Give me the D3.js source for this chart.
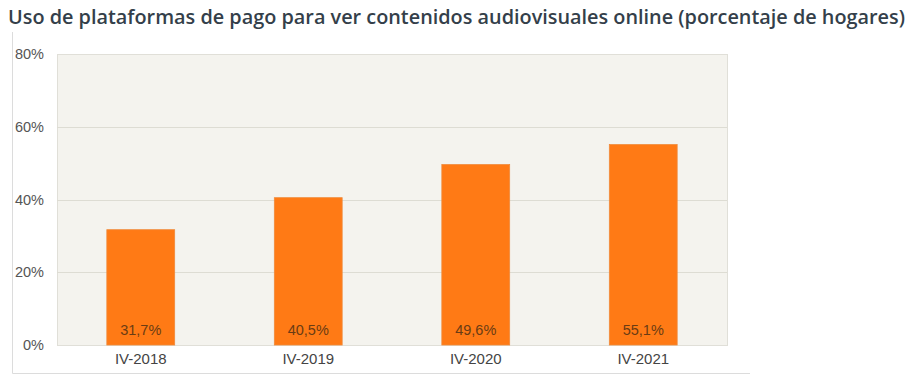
<!DOCTYPE html>
<html>
<head>
<meta charset="utf-8">
<script src="https://cdn.jsdelivr.net/npm/d3@7"></script>
<style>
  body { margin: 0; background: #fff; }
  svg { display: block; }
</style>
</head>
<body>
<div id="chart"></div>
<script>
const categories = ["IV-2018", "IV-2019", "IV-2020", "IV-2021"];
const values = [31.7, 40.5, 49.6, 55.1];
const valueLabels = ["31,7%", "40,5%", "49,6%", "55,1%"];
const yTicks = [0, 20, 40, 60, 80];

const width = 914, height = 385;
const plot = { left: 57, right: 727, top: 54, bottom: 345 };

const svg = d3.select("#chart").append("svg")
    .attr("width", width)
    .attr("height", height);

// title
svg.append("text")
    .attr("x", 8)
    .attr("y", 24)
    .attr("textLength", 897)
    .attr("lengthAdjust", "spacingAndGlyphs")
    .style("font-family", "'Open Sans', 'Noto Sans', sans-serif")
    .style("font-size", "20px")
    .style("font-weight", 600)
    .style("fill", "#343f4a")
    .text("Uso de plataformas de pago para ver contenidos audiovisuales online (porcentaje de hogares)");

// outer frame lines (left and bottom)
svg.append("path")
    .attr("d", "M12.5,32V373.5H750")
    .attr("fill", "none")
    .attr("stroke", "#dcdcdc");

const x = d3.scaleBand()
    .domain(categories)
    .range([plot.left, plot.right])
    .paddingInner(0.595)
    .paddingOuter(0.2975);

const y = d3.scaleLinear()
    .domain([0, 80])
    .range([plot.bottom, plot.top]);

// plot background
svg.append("rect")
    .attr("x", plot.left + 0.5)
    .attr("y", plot.top + 0.5)
    .attr("width", plot.right - plot.left)
    .attr("height", plot.bottom - plot.top)
    .attr("fill", "#f4f3ee")
    .attr("stroke", "#e0dfd8");

// gridlines
svg.append("g")
    .selectAll("line")
    .data(yTicks.slice(1, -1))
    .join("line")
    .attr("x1", plot.left)
    .attr("x2", plot.right)
    .attr("y1", d => Math.round(y(d)) + 0.5)
    .attr("y2", d => Math.round(y(d)) + 0.5)
    .attr("stroke", "#dddcd3");

const labelFont = "'Liberation Sans', Arial, sans-serif";

// y axis labels
const yAxis = svg.append("g")
    .attr("transform", `translate(44,0)`)
    .call(d3.axisLeft(y).tickValues(yTicks).tickSize(0).tickPadding(0).tickFormat(d => d + "%"));
yAxis.select(".domain").remove();
yAxis.selectAll("text")
    .style("font-family", labelFont)
    .style("font-size", "14.5px")
    .style("fill", "#555");

// bars
svg.append("g")
    .selectAll("rect")
    .data(values)
    .join("rect")
    .attr("x", (d, i) => x(categories[i]))
    .attr("y", d => y(d))
    .attr("width", x.bandwidth())
    .attr("height", d => y(0) - y(d))
    .attr("fill", "#ff7a15")
    .attr("stroke", "#f08a3a")
    .attr("stroke-width", 0.8);

// value labels
svg.append("g")
    .selectAll("text")
    .data(valueLabels)
    .join("text")
    .attr("x", (d, i) => x(categories[i]) + x.bandwidth() / 2)
    .attr("y", y(0) - 10)
    .attr("text-anchor", "middle")
    .style("font-family", labelFont)
    .style("font-size", "14.5px")
    .style("fill", "#6a3c14")
    .text(d => d);

// x axis labels
const xAxis = svg.append("g")
    .attr("transform", `translate(0,${plot.bottom + 8})`)
    .call(d3.axisBottom(x).tickSize(0).tickPadding(0));
xAxis.select(".domain").remove();
xAxis.selectAll("text")
    .attr("dy", "0.71em")
    .style("font-family", labelFont)
    .style("font-size", "15px")
    .style("fill", "#444");
</script>
</body>
</html>
